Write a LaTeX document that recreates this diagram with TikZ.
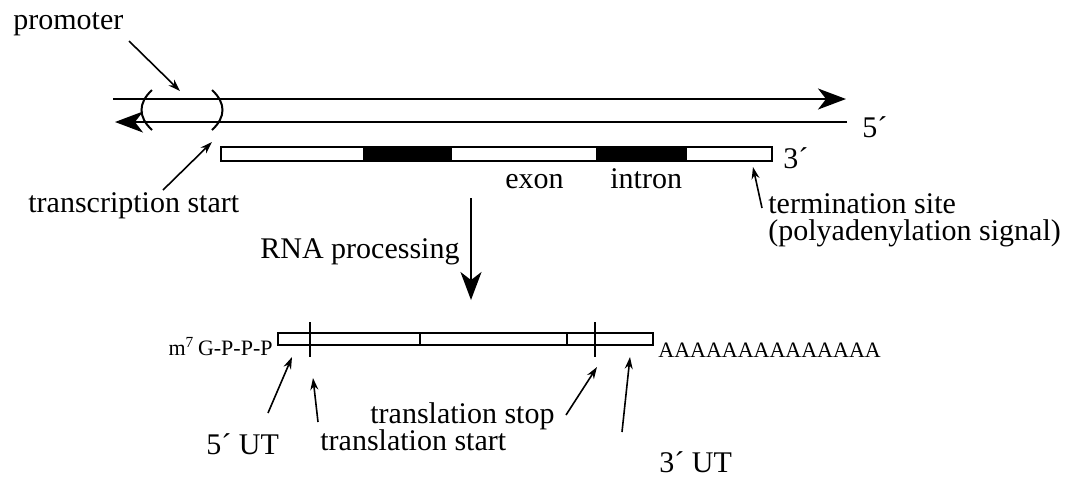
\documentclass[tikz,border=0pt]{standalone}
\usepackage{fontspec}
\setmainfont{Liberation Serif}
\usetikzlibrary{arrows.meta,positioning}

\begin{document}
\begin{tikzpicture}[
x=0.5pt, y=-0.5pt,
lbl/.style={inner sep=0pt, font=\fontsize{15}{13.5}\selectfont},
smalllbl/.style={inner sep=0pt, font=\fontsize{11}{13}\selectfont},
strand/.style={line width=1pt},
bigarrow/.style={-{Stealth[length=14pt, width=10.5pt, inset=4pt]}, line width=1pt},
ptr/.style={-{Stealth[length=6pt, width=4pt]}, line width=0.8pt},
seg/.style={line width=1pt}
]
\useasboundingbox (0,0) rectangle (1071,479);

% DNA double strand
\coordinate (top-l) at (113,99);
\coordinate (top-r) at (846,99);
\coordinate (bot-l) at (115,122);
\coordinate (bot-r) at (847,122);
\draw[bigarrow] (top-l) -- (top-r);
\draw[bigarrow] (bot-r) -- (bot-l);
\draw[seg] (152,90) .. controls (138,103) and (138,117) .. (152,130);
\draw[seg] (212,90) .. controls (226,103) and (226,117) .. (212,130);
\node[lbl, anchor=base west] (five) at (862,137) {5´};

% gene
\fill (363,147) rectangle (452,161);
\fill (596,147) rectangle (687,161);
\draw[seg] (221,147) rectangle (772,161);
\node[lbl, anchor=base west] (three) at (783,168) {3´};
\node[lbl, anchor=base west] (exon) at (505,188) {exon};
\node[lbl, anchor=base west] (intron) at (610,188) {intron};

\node[lbl, anchor=base west] (prom) at (13,29) {promoter};
\node[lbl, anchor=base west] (tstart) at (28,212) {transcription start};
\node[lbl, anchor=base west, align=left] (term) at (768,240) {termination site\\(polyadenylation signal)};
\node[lbl, anchor=base west] (proc) at (260,258) {RNA processing};

\coordinate (prom-tail) at (129,41);
\coordinate (prom-tip) at (180,91);
\coordinate (tstart-tail) at (163,190);
\coordinate (tstart-tip) at (212,142);
\coordinate (term-tail) at (762,208);
\coordinate (term-tip) at (753,167);
\coordinate (proc-top) at (471,198);
\coordinate (proc-tip) at (471,300);
\draw[ptr] (prom-tail) -- (prom-tip);
\draw[ptr] (tstart-tail) -- (tstart-tip);
\draw[ptr] (term-tail) -- (term-tip);
\draw[bigarrow] (proc-top) -- (proc-tip);

% mRNA
\draw[seg] (278,333) rectangle (653,345);
\draw[seg] (420,333) -- (420,345);
\draw[seg] (567,333) -- (567,345);
\draw[seg] (310,322) -- (310,357);
\draw[seg] (595,322) -- (595,357);
\node[smalllbl, anchor=base east] (cap) at (273,355) {m\textsuperscript{7}\,G-P-P-P};
\node[smalllbl, anchor=base west] (polya) at (658,357) {AAAAAAAAAAAAAA};

\node[lbl, anchor=base west] (utr5) at (206,454) {5´ UT};
\node[lbl, anchor=base west] (lstart) at (320,450) {translation start};
\node[lbl, anchor=base west] (lstop) at (370,423) {translation stop};
\node[lbl, anchor=base west] (utr3) at (659,472) {3´ UT};

\coordinate (utr5-tail) at (268,413);
\coordinate (utr5-tip) at (292,357);
\coordinate (lstart-tail) at (318,422);
\coordinate (lstart-tip) at (313,378);
\coordinate (lstop-tail) at (566,415);
\coordinate (lstop-tip) at (597,367);
\coordinate (utr3-tail) at (622,432);
\coordinate (utr3-tip) at (630,357);
\draw[ptr] (utr5-tail) -- (utr5-tip);
\draw[ptr] (lstart-tail) -- (lstart-tip);
\draw[ptr] (lstop-tail) -- (lstop-tip);
\draw[ptr] (utr3-tail) -- (utr3-tip);
\end{tikzpicture}
\end{document}
